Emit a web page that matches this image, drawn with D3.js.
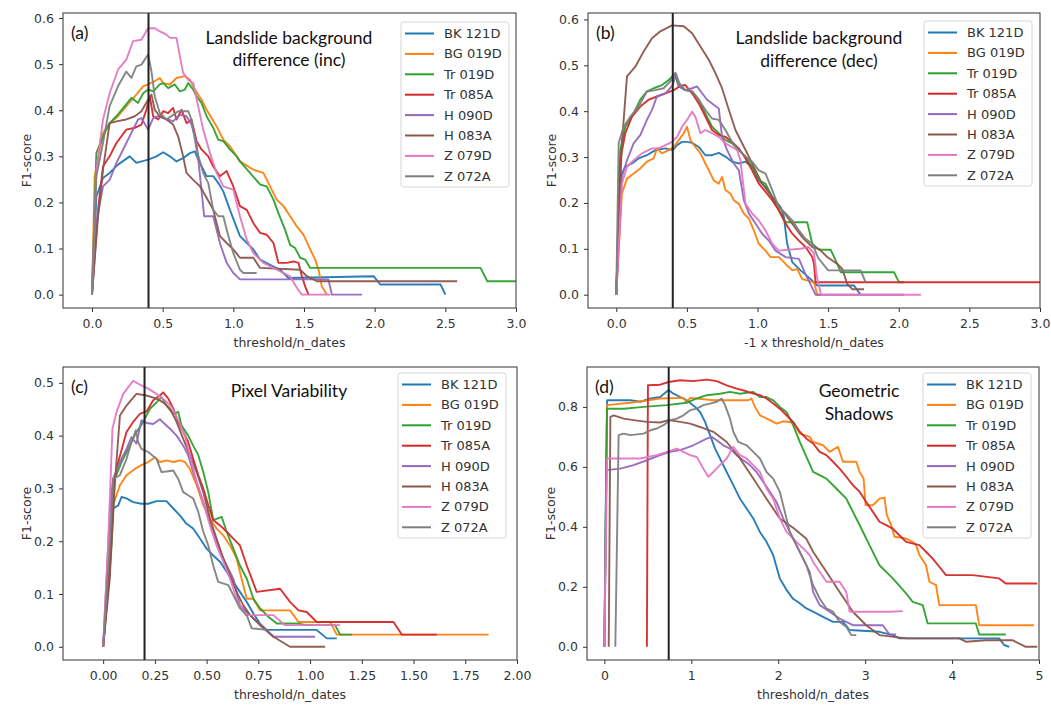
<!DOCTYPE html>
<html><head><meta charset="utf-8">
<script src="https://cdn.jsdelivr.net/npm/d3@7"></script>
<style>body{margin:0;background:#fff}svg{display:block}</style>
</head><body>
<script>
// ---------------- DATA ----------------
const seriesNames = ["BK 121D","BG 019D","Tr 019D","Tr 085A","H 090D","H 083A","Z 079D","Z 072A"];
const seriesColors = ["#1f77b4","#ff7f0e","#2ca02c","#d62728","#9467bd","#8c564b","#e377c2","#7f7f7f"];
const panelTitles = [["Landslide background","difference (inc)"],["Landslide background","difference (dec)"],["Pixel Variability"],["Geometric","Shadows"]];
const panelLetters = ["(a)","(b)","(c)","(d)"];
const xLabels = ["threshold/n_dates","-1 x threshold/n_dates","threshold/n_dates","threshold/n_dates"];
const yLabel = "F1-score";
const vlines = [0.4, 0.4, 0.2, 0.74];
const xTicksAB = [0,0.5,1.0,1.5,2.0,2.5,3.0];
const xTicksC = [0,0.25,0.5,0.75,1.0,1.25,1.5,1.75,2.0];
const xTicksD = [0,1,2,3,4,5];
const yTicksAB = [0,0.1,0.2,0.3,0.4,0.5,0.6];
const yTicksC = [0,0.1,0.2,0.3,0.4,0.5];
const yTicksD = [0,0.2,0.4,0.6,0.8];

// (a) Landslide background difference (inc): [threshold, F1]
const panelA = [
 [[0,0],[0.031,0.213],[0.078,0.253],[0.125,0.264],[0.184,0.282],[0.267,0.300],[0.314,0.286],[0.397,0.293],[0.456,0.300],[0.504,0.309],[0.551,0.300],[0.598,0.289],[0.645,0.296],[0.693,0.307],[0.728,0.311],[0.752,0.293],[0.811,0.257],[0.858,0.257],[0.894,0.242],[0.929,0.224],[0.976,0.184],[1.047,0.127],[1.142,0.098],[1.189,0.076],[1.284,0.061],[1.331,0.054],[1.390,0.036],[1.993,0.040],[2.040,0.022],[2.466,0.022],[2.501,0]],
 [[0,0],[0.019,0.257],[0.078,0.351],[0.125,0.372],[0.184,0.387],[0.243,0.409],[0.303,0.430],[0.362,0.452],[0.397,0.456],[0.444,0.463],[0.48,0.470],[0.504,0.459],[0.551,0.456],[0.598,0.470],[0.657,0.474],[0.693,0.466],[0.728,0.445],[0.775,0.423],[0.811,0.401],[0.882,0.365],[0.929,0.336],[0.976,0.322],[1.024,0.300],[1.047,0.289],[1.142,0.271],[1.213,0.264],[1.260,0.235],[1.307,0.206],[1.355,0.192],[1.402,0.170],[1.449,0.148],[1.496,0.130],[1.544,0.098],[1.579,0.076],[1.603,0.054],[1.626,0.018],[1.662,0]],
 [[0,0],[0.031,0.307],[0.078,0.343],[0.125,0.372],[0.173,0.387],[0.232,0.409],[0.279,0.427],[0.326,0.416],[0.362,0.437],[0.397,0.445],[0.433,0.441],[0.48,0.456],[0.504,0.459],[0.539,0.448],[0.586,0.456],[0.622,0.441],[0.657,0.445],[0.681,0.459],[0.716,0.445],[0.740,0.430],[0.775,0.416],[0.811,0.387],[0.858,0.362],[0.894,0.336],[0.929,0.333],[0.976,0.315],[1.024,0.300],[1.047,0.289],[1.118,0.264],[1.189,0.239],[1.236,0.235],[1.284,0.206],[1.319,0.177],[1.366,0.141],[1.402,0.108],[1.437,0.101],[1.473,0.080],[1.508,0.076],[1.544,0.058],[2.749,0.058],[2.797,0.029],[3.05,0.029]],
 [[0,0],[0.043,0.184],[0.078,0.278],[0.125,0.300],[0.173,0.329],[0.243,0.358],[0.303,0.362],[0.35,0.369],[0.385,0.401],[0.409,0.430],[0.433,0.387],[0.468,0.380],[0.504,0.398],[0.539,0.394],[0.574,0.405],[0.598,0.380],[0.634,0.401],[0.669,0.372],[0.704,0.380],[0.740,0.333],[0.775,0.315],[0.823,0.300],[0.858,0.278],[0.905,0.257],[0.953,0.268],[1.0,0.235],[1.047,0.192],[1.095,0.184],[1.142,0.155],[1.189,0.134],[1.236,0.130],[1.284,0.112],[1.319,0.069],[1.378,0.069],[1.426,0.072],[1.461,0.069],[1.485,0.040],[1.508,0.018],[1.532,0]],
 [[0,0],[0.031,0.155],[0.078,0.235],[0.125,0.249],[0.173,0.286],[0.232,0.322],[0.279,0.351],[0.326,0.380],[0.35,0.383],[0.397,0.358],[0.433,0.383],[0.468,0.387],[0.504,0.383],[0.539,0.380],[0.574,0.376],[0.622,0.390],[0.669,0.387],[0.704,0.369],[0.740,0.329],[0.794,0.170],[0.858,0.170],[0.905,0.112],[0.953,0.069],[1.0,0.047],[1.047,0.033],[1.673,0.033],[1.697,0],[1.910,0]],
 [[0,0],[0.043,0.170],[0.078,0.271],[0.125,0.372],[0.173,0.376],[0.243,0.380],[0.303,0.387],[0.35,0.398],[0.397,0.423],[0.421,0.434],[0.444,0.401],[0.48,0.387],[0.527,0.380],[0.574,0.369],[0.610,0.343],[0.645,0.300],[0.669,0.264],[0.716,0.249],[0.764,0.235],[0.811,0.210],[0.858,0.184],[0.905,0.127],[0.953,0.112],[1.0,0.098],[1.047,0.080],[1.142,0.080],[1.189,0.058],[1.473,0.054],[1.520,0.040],[1.591,0.029],[2.584,0.029]],
 [[0,0],[0.031,0.271],[0.078,0.380],[0.125,0.437],[0.184,0.488],[0.243,0.510],[0.291,0.550],[0.35,0.553],[0.397,0.578],[0.444,0.578],[0.48,0.571],[0.527,0.564],[0.551,0.557],[0.598,0.557],[0.622,0.517],[0.645,0.481],[0.681,0.466],[0.716,0.459],[0.752,0.408],[0.787,0.358],[0.835,0.307],[0.882,0.264],[0.929,0.235],[1.0,0.228],[1.047,0.170],[1.095,0.119],[1.142,0.090],[1.213,0.069],[1.307,0.054],[1.40,0.040],[1.46,0.01],[1.485,0],[1.686,0]],
 [[0,0],[0.031,0.257],[0.078,0.329],[0.125,0.409],[0.184,0.452],[0.243,0.484],[0.279,0.470],[0.314,0.495],[0.35,0.499],[0.397,0.521],[0.421,0.484],[0.444,0.430],[0.48,0.394],[0.527,0.380],[0.574,0.390],[0.610,0.398],[0.681,0.398],[0.704,0.380],[0.740,0.315],[0.787,0.264],[0.823,0.242],[0.858,0.184],[0.894,0.170],[0.929,0.170],[0.965,0.127],[1.0,0.090],[1.047,0.054],[1.071,0.047],[1.165,0.047]]
];
// (b) Landslide background difference (dec)
const panelB = [
 [[0,0],[0.028,0.257],[0.064,0.279],[0.111,0.286],[0.158,0.297],[0.217,0.304],[0.277,0.315],[0.348,0.319],[0.400,0.315],[0.430,0.326],[0.466,0.333],[0.501,0.333],[0.537,0.331],[0.584,0.322],[0.631,0.304],[0.678,0.304],[0.726,0.309],[0.773,0.301],[0.820,0.290],[0.868,0.286],[0.915,0.290],[0.962,0.279],[1.009,0.249],[1.057,0.235],[1.104,0.213],[1.163,0.191],[1.187,0.169],[1.210,0.111],[1.246,0.071],[1.305,0.053],[1.376,0.034],[1.423,0.020],[1.683,0.020],[1.730,0]],
 [[0,0],[0.040,0.220],[0.076,0.253],[0.123,0.264],[0.170,0.275],[0.217,0.290],[0.265,0.297],[0.288,0.319],[0.324,0.308],[0.371,0.315],[0.407,0.322],[0.442,0.337],[0.478,0.352],[0.501,0.366],[0.525,0.337],[0.560,0.322],[0.596,0.308],[0.631,0.286],[0.667,0.264],[0.690,0.249],[0.726,0.242],[0.749,0.257],[0.773,0.228],[0.809,0.220],[0.832,0.206],[0.868,0.198],[0.903,0.177],[0.939,0.166],[0.974,0.140],[1.009,0.111],[1.057,0.096],[1.092,0.082],[1.151,0.082],[1.199,0.067],[1.246,0.053],[1.281,0.056],[1.317,0.034],[1.400,0.027],[1.423,0],[1.45,0]],
 [[0,0],[0.028,0.315],[0.064,0.366],[0.111,0.388],[0.170,0.425],[0.217,0.443],[0.265,0.450],[0.324,0.457],[0.371,0.468],[0.414,0.481],[0.442,0.454],[0.489,0.446],[0.537,0.443],[0.584,0.425],[0.631,0.395],[0.678,0.366],[0.726,0.352],[0.773,0.337],[0.820,0.330],[0.868,0.315],[0.915,0.301],[0.962,0.279],[1.009,0.249],[1.057,0.242],[1.104,0.213],[1.163,0.177],[1.199,0.158],[1.352,0.158],[1.388,0.111],[1.435,0.098],[1.518,0.098],[1.565,0.067],[1.589,0.049],[1.967,0.049],[2.002,0.027],[2.038,0.027]],
 [[0,0],[0.028,0.293],[0.064,0.352],[0.111,0.388],[0.170,0.410],[0.229,0.425],[0.288,0.432],[0.348,0.439],[0.407,0.446],[0.454,0.455],[0.489,0.457],[0.537,0.439],[0.584,0.417],[0.631,0.388],[0.678,0.359],[0.726,0.348],[0.773,0.344],[0.820,0.333],[0.868,0.319],[0.915,0.297],[0.962,0.271],[1.009,0.242],[1.057,0.224],[1.104,0.206],[1.151,0.184],[1.199,0.155],[1.246,0.133],[1.293,0.118],[1.340,0.104],[1.388,0.082],[1.400,0.067],[1.411,0.027],[3.05,0.027]],
 [[0,0],[0.040,0.257],[0.076,0.293],[0.123,0.330],[0.170,0.348],[0.217,0.381],[0.253,0.403],[0.288,0.432],[0.348,0.439],[0.400,0.457],[0.423,0.481],[0.447,0.454],[0.489,0.446],[0.537,0.450],[0.572,0.454],[0.608,0.439],[0.643,0.425],[0.690,0.414],[0.726,0.406],[0.749,0.344],[0.785,0.315],[0.832,0.286],[0.868,0.271],[0.903,0.206],[0.939,0.177],[0.986,0.155],[1.033,0.133],[1.080,0.118],[1.128,0.096],[1.199,0.082],[1.293,0.078],[1.340,0.045],[1.411,0],[2.037,0]],
 [[0,0],[0.040,0.330],[0.076,0.476],[0.135,0.497],[0.194,0.530],[0.253,0.559],[0.312,0.574],[0.395,0.587],[0.478,0.585],[0.537,0.570],[0.596,0.541],[0.655,0.512],[0.702,0.483],[0.749,0.450],[0.797,0.403],[0.844,0.359],[0.891,0.330],[0.939,0.301],[0.986,0.271],[1.033,0.242],[1.104,0.213],[1.175,0.184],[1.246,0.155],[1.317,0.125],[1.388,0.104],[1.435,0.100],[1.494,0.082],[1.565,0.067],[1.600,0.056],[1.636,0.023],[1.671,0.012],[1.754,0.012]],
 [[0,0],[0.040,0.242],[0.076,0.279],[0.123,0.293],[0.182,0.308],[0.253,0.319],[0.300,0.319],[0.348,0.326],[0.395,0.333],[0.430,0.344],[0.466,0.366],[0.501,0.381],[0.537,0.399],[0.560,0.388],[0.596,0.352],[0.631,0.359],[0.678,0.352],[0.726,0.344],[0.773,0.330],[0.820,0.322],[0.856,0.315],[0.879,0.293],[0.915,0.198],[0.962,0.177],[1.009,0.162],[1.057,0.140],[1.104,0.111],[1.151,0.096],[1.30,0.100],[1.36,0.104],[1.40,0.090],[1.42,0.04],[1.45,0],[2.157,0]],
 [[0,0],[0.017,0.330],[0.052,0.366],[0.099,0.388],[0.158,0.410],[0.217,0.443],[0.277,0.446],[0.336,0.450],[0.390,0.468],[0.418,0.484],[0.447,0.461],[0.489,0.446],[0.537,0.443],[0.584,0.425],[0.631,0.403],[0.678,0.384],[0.726,0.381],[0.773,0.359],[0.820,0.333],[0.868,0.315],[0.915,0.301],[0.962,0.290],[1.009,0.271],[1.057,0.264],[1.104,0.228],[1.151,0.191],[1.199,0.177],[1.246,0.162],[1.293,0.140],[1.340,0.122],[1.388,0.111],[1.43,0.08],[1.50,0.053],[1.73,0.053],[1.766,0.027]]
];
// (c) Pixel Variability
const panelC = [
 [[0,0],[0.032,0.161],[0.048,0.262],[0.073,0.268],[0.089,0.284],[0.113,0.281],[0.145,0.274],[0.185,0.271],[0.218,0.271],[0.258,0.276],[0.306,0.276],[0.339,0.262],[0.371,0.249],[0.403,0.233],[0.435,0.224],[0.468,0.205],[0.500,0.186],[0.532,0.173],[0.565,0.161],[0.597,0.142],[0.629,0.123],[0.661,0.104],[0.694,0.085],[0.726,0.063],[0.758,0.044],[0.790,0.032],[1.032,0.032],[1.081,0.016],[1.129,0.016]],
 [[0,0],[0.032,0.161],[0.048,0.268],[0.081,0.306],[0.113,0.325],[0.153,0.337],[0.185,0.344],[0.218,0.350],[0.250,0.359],[0.274,0.350],[0.306,0.353],[0.339,0.350],[0.371,0.353],[0.395,0.350],[0.419,0.337],[0.452,0.306],[0.484,0.268],[0.516,0.243],[0.548,0.224],[0.581,0.211],[0.613,0.192],[0.645,0.167],[0.669,0.129],[0.694,0.091],[0.726,0.091],[0.758,0.069],[0.903,0.069],[0.944,0.047],[1.097,0.047],[1.129,0.023],[1.863,0.023]],
 [[0,0],[0.040,0.192],[0.056,0.318],[0.089,0.350],[0.129,0.381],[0.161,0.407],[0.194,0.426],[0.226,0.451],[0.258,0.463],[0.282,0.473],[0.306,0.457],[0.339,0.441],[0.363,0.445],[0.379,0.419],[0.411,0.400],[0.435,0.381],[0.460,0.363],[0.484,0.331],[0.508,0.293],[0.532,0.240],[0.573,0.246],[0.597,0.218],[0.629,0.186],[0.661,0.154],[0.694,0.129],[0.726,0.091],[0.758,0.073],[0.798,0.057],[0.839,0.044],[0.944,0.044],[0.984,0.041],[1.121,0.041],[1.145,0.023],[1.202,0.023]],
 [[0,0],[0.032,0.142],[0.048,0.306],[0.073,0.350],[0.113,0.407],[0.145,0.426],[0.177,0.441],[0.210,0.446],[0.242,0.467],[0.274,0.476],[0.290,0.482],[0.315,0.470],[0.339,0.451],[0.363,0.426],[0.387,0.407],[0.411,0.388],[0.435,0.356],[0.460,0.325],[0.484,0.300],[0.508,0.268],[0.532,0.240],[0.565,0.230],[0.597,0.218],[0.629,0.205],[0.661,0.192],[0.694,0.154],[0.718,0.129],[0.742,0.104],[0.855,0.110],[0.903,0.085],[0.944,0.069],[0.984,0.066],[1.032,0.047],[1.403,0.047],[1.444,0.023],[1.613,0.023]],
 [[0,0],[0.032,0.255],[0.048,0.318],[0.081,0.350],[0.113,0.375],[0.137,0.397],[0.161,0.385],[0.185,0.429],[0.210,0.424],[0.242,0.422],[0.274,0.431],[0.298,0.422],[0.323,0.413],[0.355,0.400],[0.387,0.381],[0.411,0.363],[0.435,0.331],[0.468,0.293],[0.500,0.255],[0.532,0.218],[0.565,0.180],[0.597,0.154],[0.629,0.129],[0.661,0.079],[0.694,0.066],[0.726,0.054],[0.790,0.032],[0.823,0.019],[1.024,0.019]],
 [[0,0],[0.032,0.129],[0.056,0.306],[0.081,0.438],[0.113,0.457],[0.161,0.479],[0.210,0.476],[0.258,0.470],[0.290,0.463],[0.323,0.451],[0.355,0.426],[0.387,0.394],[0.419,0.363],[0.452,0.331],[0.484,0.293],[0.516,0.243],[0.548,0.205],[0.581,0.167],[0.613,0.136],[0.645,0.104],[0.677,0.079],[0.710,0.060],[0.758,0.041],[0.823,0.019],[0.903,0],[1.073,0]],
 [[0,0],[0.024,0.192],[0.045,0.413],[0.065,0.445],[0.097,0.479],[0.145,0.504],[0.185,0.495],[0.218,0.489],[0.258,0.479],[0.298,0.467],[0.331,0.454],[0.363,0.429],[0.395,0.400],[0.419,0.363],[0.452,0.312],[0.484,0.274],[0.516,0.230],[0.548,0.192],[0.581,0.161],[0.613,0.129],[0.645,0.091],[0.669,0.073],[0.69,0.060],[0.823,0.060],[0.879,0.041],[1.145,0.041]],
 [[0,0],[0.032,0.192],[0.048,0.318],[0.081,0.325],[0.113,0.356],[0.137,0.388],[0.158,0.410],[0.169,0.388],[0.185,0.375],[0.218,0.369],[0.258,0.356],[0.282,0.331],[0.306,0.332],[0.339,0.334],[0.363,0.318],[0.387,0.293],[0.411,0.287],[0.435,0.281],[0.460,0.255],[0.484,0.218],[0.508,0.192],[0.532,0.154],[0.556,0.123],[0.605,0.117],[0.629,0.098],[0.661,0.073],[0.694,0.060],[0.718,0.035],[0.790,0.032]]
];
// (d) Geometric Shadows
const panelD = [
 [[0,0],[0.031,0.822],[0.298,0.822],[0.413,0.817],[0.528,0.828],[0.642,0.833],[0.738,0.856],[0.795,0.844],[0.872,0.833],[0.948,0.822],[1.044,0.800],[1.101,0.783],[1.158,0.750],[1.216,0.706],[1.273,0.661],[1.330,0.628],[1.407,0.583],[1.483,0.539],[1.560,0.494],[1.636,0.461],[1.713,0.428],[1.789,0.383],[1.865,0.350],[1.942,0.306],[2.018,0.228],[2.095,0.190],[2.171,0.160],[2.248,0.145],[2.324,0.128],[2.401,0.117],[2.515,0.100],[2.630,0.083],[2.745,0.083],[2.821,0.056],[3.165,0.050],[3.318,0.039],[3.394,0.028],[4.541,0.028],[4.599,0.006],[4.657,0]],
 [[0,0],[0.031,0.806],[0.298,0.814],[0.642,0.828],[0.910,0.830],[0.948,0.814],[0.986,0.830],[1.254,0.822],[1.655,0.822],[1.693,0.828],[1.732,0.800],[1.789,0.772],[1.904,0.756],[1.980,0.744],[2.057,0.752],[2.171,0.748],[2.248,0.711],[2.362,0.700],[2.401,0.683],[2.515,0.672],[2.592,0.650],[2.687,0.667],[2.745,0.617],[2.898,0.617],[2.936,0.583],[2.982,0.561],[3.005,0.472],[3.089,0.472],[3.165,0.494],[3.222,0.497],[3.249,0.439],[3.299,0.406],[3.337,0.367],[3.471,0.361],[3.547,0.350],[3.586,0.339],[3.624,0.306],[3.700,0.272],[3.739,0.217],[3.815,0.206],[3.853,0.139],[4.274,0.139],[4.312,0.072],[4.943,0.072]],
 [[0,0],[0.02,0.594],[0.031,0.794],[0.222,0.794],[0.451,0.800],[0.719,0.806],[0.948,0.814],[1.063,0.828],[1.177,0.839],[1.330,0.844],[1.445,0.850],[1.560,0.844],[1.713,0.850],[1.789,0.833],[1.865,0.833],[1.942,0.822],[2.018,0.800],[2.095,0.783],[2.171,0.739],[2.248,0.683],[2.401,0.583],[2.554,0.561],[2.668,0.528],[2.783,0.494],[2.821,0.472],[2.936,0.406],[3.050,0.339],[3.165,0.272],[3.318,0.228],[3.471,0.178],[3.547,0.150],[3.662,0.139],[3.719,0.078],[4.274,0.078],[4.312,0.041],[4.618,0.041]],
 [[0.489,0],[0.501,0.872],[0.642,0.874],[0.738,0.883],[0.872,0.889],[1.024,0.886],[1.177,0.891],[1.292,0.886],[1.407,0.872],[1.521,0.861],[1.636,0.852],[1.713,0.844],[1.789,0.839],[1.865,0.828],[1.942,0.811],[2.018,0.794],[2.095,0.772],[2.171,0.750],[2.248,0.717],[2.324,0.694],[2.401,0.678],[2.477,0.650],[2.554,0.639],[2.630,0.617],[2.706,0.594],[2.783,0.567],[2.859,0.539],[2.936,0.517],[3.012,0.483],[3.089,0.450],[3.165,0.417],[3.242,0.406],[3.318,0.394],[3.394,0.372],[3.471,0.350],[3.624,0.339],[3.700,0.317],[3.777,0.294],[3.853,0.267],[3.930,0.239],[4.235,0.239],[4.541,0.228],[4.618,0.211],[4.98,0.211]],
 [[0,0],[0.023,0.589],[0.183,0.594],[0.336,0.606],[0.489,0.622],[0.642,0.639],[0.757,0.650],[0.872,0.656],[1.024,0.672],[1.177,0.694],[1.235,0.700],[1.292,0.689],[1.368,0.672],[1.445,0.661],[1.521,0.639],[1.598,0.622],[1.674,0.606],[1.751,0.583],[1.827,0.550],[1.904,0.517],[1.980,0.483],[2.057,0.428],[2.133,0.383],[2.209,0.339],[2.286,0.294],[2.362,0.250],[2.401,0.183],[2.477,0.139],[2.592,0.117],[2.706,0.094],[2.859,0.072],[3.203,0.072],[3.280,0.041],[3.356,0.041]],
 [[0.05,0],[0.069,0.767],[0.107,0.772],[0.222,0.761],[0.336,0.756],[0.489,0.750],[0.642,0.748],[0.738,0.756],[0.872,0.750],[0.986,0.744],[1.101,0.733],[1.254,0.717],[1.407,0.683],[1.560,0.628],[1.713,0.561],[1.865,0.494],[2.018,0.428],[2.171,0.397],[2.324,0.360],[2.401,0.317],[2.554,0.250],[2.706,0.183],[2.859,0.117],[3.012,0.072],[3.165,0.039],[3.471,0.028],[4.083,0.028],[4.159,0.017],[4.388,0.022],[4.694,0.022],[4.847,0],[4.98,0]],
 [[0,0],[0.031,0.628],[0.413,0.628],[0.604,0.639],[0.719,0.650],[0.833,0.661],[0.910,0.650],[0.986,0.639],[1.063,0.633],[1.139,0.594],[1.196,0.567],[1.254,0.583],[1.330,0.606],[1.407,0.628],[1.483,0.667],[1.560,0.639],[1.636,0.628],[1.713,0.606],[1.789,0.583],[1.865,0.528],[1.942,0.494],[2.018,0.428],[2.095,0.383],[2.171,0.361],[2.248,0.339],[2.362,0.306],[2.401,0.283],[2.477,0.250],[2.554,0.217],[2.706,0.217],[2.783,0.183],[2.821,0.117],[3.280,0.117],[3.433,0.119]],
 [[0.126,0],[0.164,0.706],[0.222,0.711],[0.298,0.706],[0.451,0.711],[0.528,0.722],[0.604,0.728],[0.680,0.739],[0.757,0.756],[0.833,0.761],[0.910,0.772],[0.986,0.789],[1.063,0.794],[1.139,0.806],[1.216,0.811],[1.292,0.817],[1.349,0.828],[1.388,0.806],[1.445,0.761],[1.483,0.717],[1.541,0.683],[1.636,0.672],[1.713,0.650],[1.789,0.628],[1.865,0.583],[1.942,0.561],[2.018,0.517],[2.057,0.472],[2.095,0.428],[2.133,0.383],[2.171,0.361],[2.248,0.317],[2.324,0.272],[2.362,0.239],[2.401,0.206],[2.477,0.161],[2.554,0.128],[2.630,0.117],[2.706,0.083],[2.783,0.067],[2.840,0.039],[2.898,0.039]]
];

// ---------------- LAYOUT ----------------
const W = 1051, H = 705;
const svg = d3.select("body").append("svg").attr("width", W).attr("height", H);
const tickFont = "'DejaVu Sans', sans-serif";
const annFont = "Lato, 'Open Sans', sans-serif";

const panels = [
  {data: panelA, box: [63, 13, 516, 308], xd: [-0.205, 3.0], yd: [-0.029, 0.611], xt: xTicksAB, xf: d3.format(".1f"), yt: yTicksAB, yf: d3.format(".1f"), titleX: 289, titleY: [37, 59], legend: [401, 22]},
  {data: panelB, box: [588, 13, 1040, 308], xd: [-0.2, 3.0], yd: [-0.029, 0.614], xt: xTicksAB, xf: d3.format(".1f"), yt: yTicksAB, yf: d3.format(".1f"), titleX: 819, titleY: [37, 60], legend: [924, 21]},
  {data: panelC, box: [63, 367, 517, 660], xd: [-0.194, 2.0], yd: [-0.025, 0.53], xt: xTicksC, xf: d3.format(".2f"), yt: yTicksC, yf: d3.format(".1f"), titleX: 289, titleY: [390], legend: [398, 373]},
  {data: panelD, box: [587, 367, 1039, 660], xd: [-0.2, 5.0], yd: [-0.044, 0.933], xt: xTicksD, xf: d3.format("d"), yt: yTicksD, yf: d3.format(".1f"), titleX: 859, titleY: [390, 413], legend: [923, 373]}
];

panels.forEach((p, pi) => {
  const [x0, y0, x1, y1] = p.box;
  const x = d3.scaleLinear().domain(p.xd).range([x0, x1]);
  const y = d3.scaleLinear().domain(p.yd).range([y1, y0]);
  const g = svg.append("g");

  const clipId = "clip" + pi;
  svg.append("clipPath").attr("id", clipId).append("rect")
    .attr("x", x0).attr("y", y0).attr("width", x1 - x0).attr("height", y1 - y0);

  // axes
  const xAxis = d3.axisBottom(x).tickValues(p.xt).tickFormat(p.xf).tickSize(4).tickPadding(7).tickSizeOuter(0);
  const yAxis = d3.axisLeft(y).tickValues(p.yt).tickFormat(p.yf).tickSize(4).tickPadding(5).tickSizeOuter(0);
  const gx = g.append("g").attr("transform", `translate(0,${y1})`).call(xAxis);
  const gy = g.append("g").attr("transform", `translate(${x0},0)`).call(yAxis);
  [gx, gy].forEach(a => {
    a.select(".domain").remove();
    a.selectAll("line").attr("stroke", "#333").attr("stroke-width", 1);
    a.selectAll("text").attr("font-family", tickFont).attr("font-size", 12.5).attr("fill", "#333");
  });

  // lines
  const line = d3.line().x(d => x(d[0])).y(d => y(d[1]));
  const lg = g.append("g").attr("clip-path", `url(#${clipId})`);
  p.data.forEach((s, si) => {
    lg.append("path").datum(s).attr("d", line)
      .attr("fill", "none").attr("stroke", seriesColors[si])
      .attr("stroke-width", 1.9).attr("stroke-linejoin", "round").attr("stroke-opacity", 0.95);
  });

  // vertical threshold line
  g.append("line").attr("x1", x(vlines[pi])).attr("x2", x(vlines[pi]))
    .attr("y1", y0).attr("y2", y1).attr("stroke", "#222").attr("stroke-width", 2);

  // frame
  g.append("rect").attr("x", x0).attr("y", y0).attr("width", x1 - x0).attr("height", y1 - y0)
    .attr("fill", "none").attr("stroke", "#333").attr("stroke-width", 1);

  // axis labels
  g.append("text").attr("x", (x0 + x1) / 2).attr("y", y1 + 39)
    .attr("text-anchor", "middle").attr("font-family", tickFont).attr("font-size", 12.5).attr("fill", "#333")
    .text(xLabels[pi]);
  g.append("text").attr("transform", `translate(${x0 - 32},${(y0 + y1) / 2}) rotate(-90)`)
    .attr("text-anchor", "middle").attr("font-family", tickFont).attr("font-size", 12.5).attr("fill", "#333")
    .text(yLabel);

  // panel letter
  g.append("text").attr("x", x0 + 8).attr("y", y0 + 26)
    .attr("font-family", annFont).attr("font-size", 17.5).attr("fill", "#111").text(panelLetters[pi]);

  // title annotation
  panelTitles[pi].forEach((t, ti) => {
    g.append("text").attr("x", p.titleX).attr("y", p.titleY[ti])
      .attr("text-anchor", "middle").attr("dominant-baseline", "central")
      .attr("font-family", annFont).attr("font-size", 17.5).attr("fill", "#111").text(t);
  });

  // legend
  const [lx, ly] = p.legend;
  const lgd = g.append("g");
  lgd.append("rect").attr("x", lx).attr("y", ly).attr("width", 108).attr("height", 165).attr("rx", 2.5)
    .attr("fill", "#fff").attr("fill-opacity", 0.85).attr("stroke", "#d6d6d6").attr("stroke-width", 1);
  seriesNames.forEach((n, i) => {
    const cy = ly + 11.5 + i * 20.4;
    lgd.append("line").attr("x1", lx + 4).attr("x2", lx + 33).attr("y1", cy).attr("y2", cy)
      .attr("stroke", seriesColors[i]).attr("stroke-width", 2);
    lgd.append("text").attr("x", lx + 43).attr("y", cy).attr("dominant-baseline", "central")
      .attr("font-family", tickFont).attr("font-size", 13).attr("fill", "#333").text(n);
  });
});
</script>
</body></html>
